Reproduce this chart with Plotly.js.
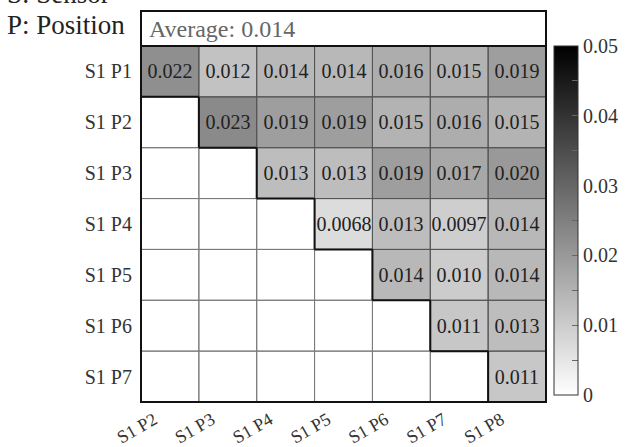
<!DOCTYPE html>
<html>
<head>
<meta charset="utf-8">
<script src="https://cdn.plot.ly/plotly-3.0.1.min.js"></script>
<style>html,body{margin:0;padding:0;background:#fff;}#chart{width:625px;height:447px;}</style>
</head>
<body>
<div id="chart"></div>
<script>
const colLabels = ['S1 P2','S1 P3','S1 P4','S1 P5','S1 P6','S1 P7','S1 P8'];
const rowLabels = ['S1 P1','S1 P2','S1 P3','S1 P4','S1 P5','S1 P6','S1 P7'];
const row1 = [0.022, 0.012, 0.014, 0.014, 0.016, 0.015, 0.019];
const row2 = [null, 0.023, 0.019, 0.019, 0.015, 0.016, 0.015];
const row3 = [null, null, 0.013, 0.013, 0.019, 0.017, 0.020];
const row4 = [null, null, null, 0.0068, 0.013, 0.0097, 0.014];
const row5 = [null, null, null, null, 0.014, 0.010, 0.014];
const row6 = [null, null, null, null, null, 0.011, 0.013];
const row7 = [null, null, null, null, null, null, 0.011];
const averageValue = 0.014;
const cbTickVals = [0, 0.005, 0.01, 0.015, 0.02, 0.025, 0.03, 0.035, 0.04, 0.045, 0.05];
const cbTickText = ['0', '', '0.01', '', '0.02', '', '0.03', '', '0.04', '', '0.05'];

const z = [row1, row2, row3, row4, row5, row6, row7];
function fmt(v) {
  if (v === null) return '';
  if (v < 0.01) return v.toPrecision(2);
  return v.toFixed(3);
}
const text = z.map(r => r.map(fmt));
const serif = '"Liberation Serif", "DejaVu Serif", serif';

const nR = rowLabels.length, nC = colLabels.length;
const shapes = [];
for (let i = 0; i < nR; i++) {
  for (let j = 0; j < nC; j++) {
    const filled = z[i][j] !== null;
    shapes.push({type: 'rect', xref: 'x', yref: 'y', x0: j - 0.5, x1: j + 0.5, y0: i - 0.5, y1: i + 0.5,
      line: {color: filled ? '#555' : '#7a7a7a', width: 1}, layer: 'above'});
  }
}
for (let i = 0; i < nR; i++) {
  let first = z[i].findIndex(v => v !== null);
  shapes.push({type: 'line', xref: 'x', yref: 'y', x0: first - 0.5, x1: first - 0.5, y0: i - 0.5, y1: i + 0.5,
    line: {color: '#111', width: 2}, layer: 'above'});
  if (i < nR - 1) {
    shapes.push({type: 'line', xref: 'x', yref: 'y', x0: first - 0.5, x1: first + 0.5, y0: i + 0.5, y1: i + 0.5,
      line: {color: '#111', width: 2}, layer: 'above'});
  }
}
shapes.push({type: 'line', xref: 'paper', yref: 'y', x0: 0, x1: 1, y0: -0.5, y1: -0.5, line: {color: '#111', width: 2}, layer: 'above'});
shapes.push({type: 'rect', xref: 'paper', yref: 'paper', x0: 0, x1: 1, y0: 0, y1: 1, line: {color: '#111', width: 2}, layer: 'above'});

const trace = {
  type: 'heatmap',
  x: colLabels,
  y: rowLabels,
  z: z,
  text: text,
  texttemplate: '%{text}',
  textfont: {family: serif, size: 20, color: '#222'},
  zmin: 0, zmax: 0.05,
  colorscale: [[0, '#ffffff'], [1, '#000000']],
  hoverongaps: false,
  colorbar: {
    thickness: 24, thicknessmode: 'pixels',
    len: 0.8926, lenmode: 'fraction',
    x: 1.0198, xanchor: 'left', xpad: 0,
    y: 0.0179, yanchor: 'bottom', ypad: 0,
    outlinecolor: '#333', outlinewidth: 1,
    tickmode: 'array', tickvals: cbTickVals, ticktext: cbTickText,
    ticks: 'inside', ticklen: 6, tickcolor: '#666',
    tickfont: {family: serif, size: 20, color: '#333'}
  }
};

const layout = {
  width: 625, height: 447,
  margin: {l: 141, r: 79, t: 11, b: 45, autoexpand: false},
  paper_bgcolor: '#fff', plot_bgcolor: '#fff',
  showlegend: false,
  xaxis: {type: 'category', range: [-0.5, 6.5], showgrid: false, zeroline: false, ticks: '', tickangle: -30,
    ticklabelshift: -16, ticklabelstandoff: 3,
    tickfont: {family: serif, size: 18, color: '#333'}, fixedrange: true, automargin: false},
  yaxis: {type: 'category', range: [6.5, -1.188], showgrid: false, zeroline: false, ticks: '', ticklabelstandoff: 8,
    tickfont: {family: serif, size: 20, color: '#333'}, fixedrange: true, automargin: false},
  shapes: shapes,
  annotations: [
    {xref: 'paper', yref: 'paper', x: 0.015, y: 0.954, xanchor: 'left', yanchor: 'middle', showarrow: false,
      text: 'Average: ' + averageValue.toFixed(3), font: {family: serif, size: 24, color: '#666'}},
    {xref: 'paper', yref: 'paper', x: -0.336, y: 0.964, xanchor: 'left', yanchor: 'middle', showarrow: false,
      text: 'P: Position', font: {family: serif, size: 27, color: '#222'}},
    {xref: 'paper', yref: 'paper', x: -0.336, y: 1.043, xanchor: 'left', yanchor: 'middle', showarrow: false,
      text: 'S: Sensor', font: {family: serif, size: 27, color: '#222'}}
  ]
};

Plotly.newPlot('chart', [trace], layout, {displayModeBar: false, staticPlot: true});
</script>
</body>
</html>
